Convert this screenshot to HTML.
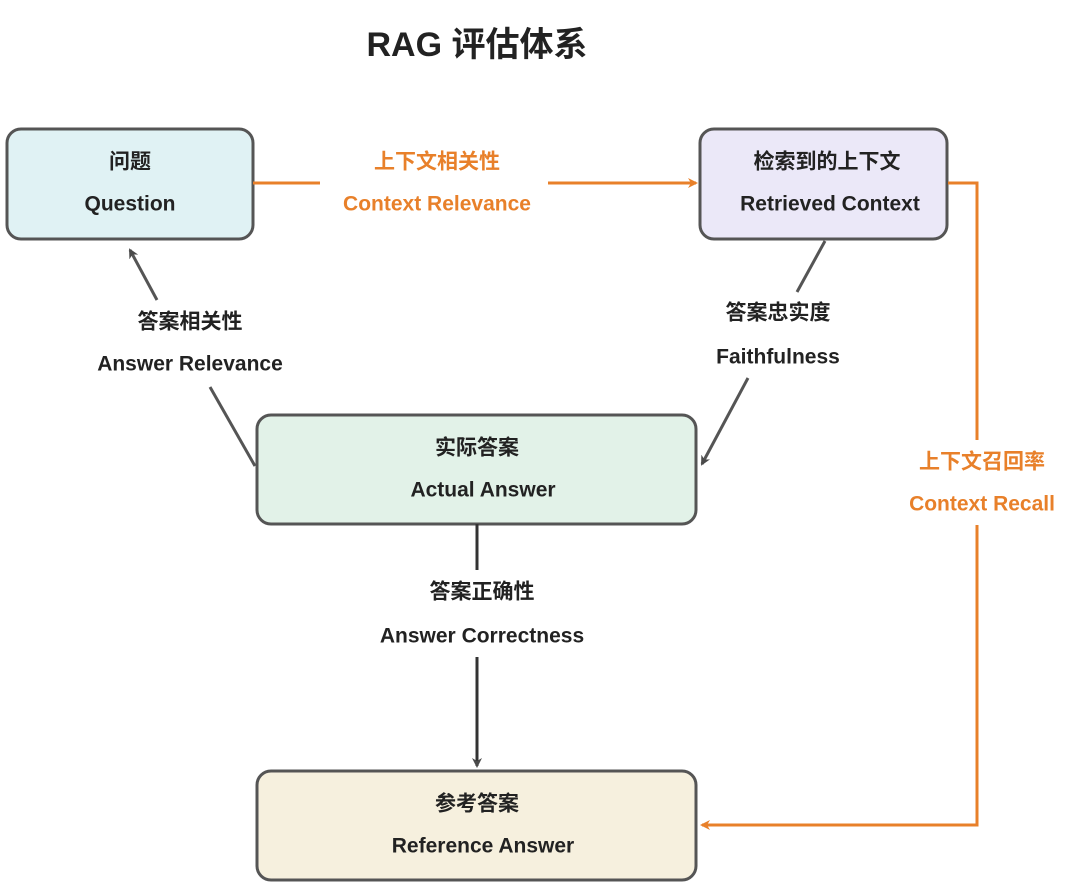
<!DOCTYPE html>
<html><head><meta charset="utf-8"><style>
html,body{margin:0;padding:0;background:#fff;}
svg{display:block;}
text{font-family:"Liberation Sans","Noto Sans CJK SC",sans-serif;font-weight:bold;text-anchor:middle;dominant-baseline:central;}
</style></head><body>
<svg width="1080" height="886" viewBox="0 0 1080 886" xmlns="http://www.w3.org/2000/svg">
<defs>
<marker id="ag" markerWidth="10" markerHeight="10" refX="8" refY="5" orient="auto" markerUnits="userSpaceOnUse" viewBox="0 0 10 10"><path d="M0,0 L10,5 L0,10 L3,5z" fill="#4a4a4a"/></marker>
<marker id="ao" markerWidth="10" markerHeight="10" refX="8" refY="5" orient="auto" markerUnits="userSpaceOnUse" viewBox="0 0 10 10"><path d="M0,0 L10,5 L0,10 L3,5z" fill="#e8802a"/></marker>
</defs>
<text x="477" y="45" font-size="34" fill="#222">RAG 评估体系</text>

<rect x="7" y="129" width="246" height="110" rx="14" fill="#e0f2f4" stroke="#555" stroke-width="3"/>
<text x="130" y="162" font-size="21" fill="#222">问题</text>
<text x="130" y="204" font-size="21" fill="#222">Question</text>

<rect x="700" y="129" width="247" height="110" rx="14" fill="#ebe8f8" stroke="#555" stroke-width="3"/>
<text x="827" y="162" font-size="21" fill="#222">检索到的上下文</text>
<text x="830" y="204" font-size="21" fill="#222">Retrieved Context</text>

<rect x="257" y="415" width="439" height="109" rx="14" fill="#e2f2e8" stroke="#555" stroke-width="3"/>
<text x="477" y="448" font-size="21" fill="#222">实际答案</text>
<text x="483" y="490" font-size="21" fill="#222">Actual Answer</text>

<rect x="257" y="771" width="439" height="109" rx="14" fill="#f6f0de" stroke="#555" stroke-width="3"/>
<text x="477" y="804" font-size="21" fill="#222">参考答案</text>
<text x="483" y="846" font-size="21" fill="#222">Reference Answer</text>

<!-- Context relevance -->
<line x1="253" y1="183" x2="320" y2="183" stroke="#e8802a" stroke-width="3"/>
<line x1="548" y1="183" x2="696" y2="183" stroke="#e8802a" stroke-width="3" marker-end="url(#ao)"/>
<text x="437" y="162" font-size="21" fill="#e8802a">上下文相关性</text>
<text x="437" y="204" font-size="21" fill="#e8802a">Context Relevance</text>

<!-- Context recall -->
<polyline points="948,183 977,183 977,440" fill="none" stroke="#e8802a" stroke-width="3"/>
<polyline points="977,525 977,825 702,825" fill="none" stroke="#e8802a" stroke-width="3" marker-end="url(#ao)"/>
<text x="982" y="462" font-size="21" fill="#e8802a">上下文召回率</text>
<text x="982" y="504" font-size="21" fill="#e8802a">Context Recall</text>

<!-- Answer relevance -->
<line x1="255" y1="466" x2="210" y2="387" stroke="#555" stroke-width="3"/>
<line x1="157" y1="300" x2="130" y2="250" stroke="#555" stroke-width="3" marker-end="url(#ag)"/>
<text x="190" y="322" font-size="21" fill="#222">答案相关性</text>
<text x="190" y="364" font-size="21" fill="#222">Answer Relevance</text>

<!-- Faithfulness -->
<line x1="825" y1="241" x2="797" y2="292" stroke="#555" stroke-width="3"/>
<line x1="748" y1="378" x2="702" y2="464" stroke="#555" stroke-width="3" marker-end="url(#ag)"/>
<text x="778" y="313" font-size="21" fill="#222">答案忠实度</text>
<text x="778" y="357" font-size="21" fill="#222">Faithfulness</text>

<!-- Answer correctness -->
<line x1="477" y1="524" x2="477" y2="570" stroke="#333" stroke-width="3"/>
<line x1="477" y1="657" x2="477" y2="766" stroke="#333" stroke-width="3" marker-end="url(#ag)"/>
<text x="482" y="592" font-size="21" fill="#222">答案正确性</text>
<text x="482" y="636" font-size="21" fill="#222">Answer Correctness</text>
</svg>
</body></html>
